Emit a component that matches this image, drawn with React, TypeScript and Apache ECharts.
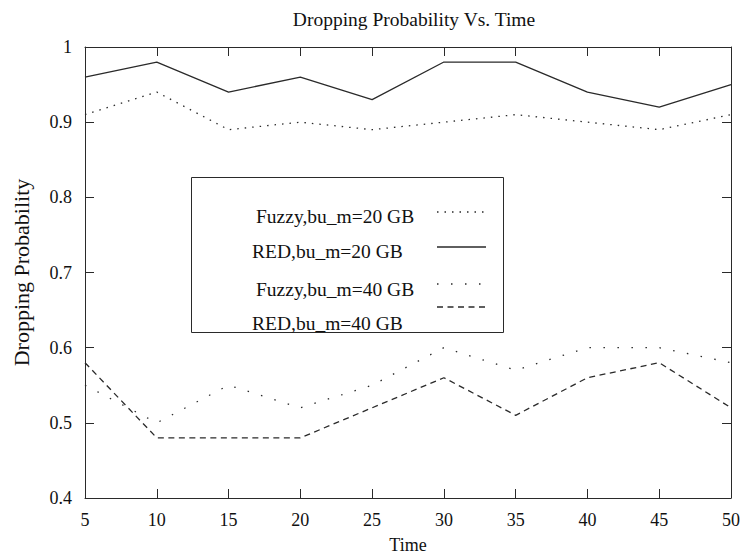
import React, { useEffect, useRef } from "react";
import * as echarts from "echarts";

const times = [5, 10, 15, 20, 25, 30, 35, 40, 45, 50];
const fuzzy20 = [0.91, 0.94, 0.89, 0.9, 0.89, 0.9, 0.91, 0.9, 0.89, 0.91];
const red20 = [0.96, 0.98, 0.94, 0.96, 0.93, 0.98, 0.98, 0.94, 0.92, 0.95];
const fuzzy40 = [0.55, 0.5, 0.55, 0.52, 0.55, 0.6, 0.57, 0.6, 0.6, 0.58];
const red40 = [0.58, 0.48, 0.48, 0.48, 0.52, 0.56, 0.51, 0.56, 0.58, 0.52];
const seriesNames = [
  "Fuzzy,bu_m=20 GB",
  "RED,bu_m=20 GB",
  "Fuzzy,bu_m=40 GB",
  "RED,bu_m=40 GB",
];

const FONT = "'Liberation Serif', 'DejaVu Serif', serif";
const INK = "#2a2a2a";

export default function App() {
  const ref = useRef<HTMLDivElement>(null);
  useEffect(() => {
    if (!ref.current) return;
    const chart = echarts.init(ref.current, undefined, { renderer: "svg" });
    const pair = (ys: number[]) => times.map((t, i) => [t, ys[i]]);
    const dashes: any[] = [[1.5, 6], "solid", [1.5, 12.5], [6, 4.5]];
    const datasets = [fuzzy20, red20, fuzzy40, red40];
    const axisCommon = {
      axisLine: { show: true, lineStyle: { color: INK, width: 1 } },
      axisTick: { show: true, inside: true, length: 9, lineStyle: { color: INK, width: 1 } },
      splitLine: { show: false },
    };
    const legendLineY = [212, 247, 284, 307];
    const legendTextY = [216, 251, 289, 323];
    const legendTextX = [256, 252, 256, 252];
    const graphics: any[] = [
      {
        type: "rect",
        shape: { x: 191.5, y: 177.5, width: 312, height: 155 },
        style: { fill: "#fff", stroke: INK, lineWidth: 1 },
        z: 100,
      },
    ];
    seriesNames.forEach((n, i) => {
      graphics.push({
        type: "text",
        x: legendTextX[i],
        y: legendTextY[i],
        style: {
          text: n,
          font: `19.5px ${FONT}`,
          fill: "#111",
          align: "left",
          verticalAlign: "middle",
        },
        z: 101,
      });
      graphics.push({
        type: "line",
        shape: { x1: 437, y1: legendLineY[i], x2: 486, y2: legendLineY[i] },
        style: {
          stroke: INK,
          lineWidth: 1.3,
          lineDash: dashes[i] === "solid" ? null : dashes[i],
        },
        z: 101,
      });
    });
    chart.setOption({
      animation: false,
      backgroundColor: "#fff",
      title: {
        text: "Dropping Probability Vs. Time",
        left: 409,
        top: 4,
        textAlign: "center",
        textStyle: { fontFamily: FONT, fontSize: 19.5, fontWeight: "normal", color: "#111" },
      },
      grid: {
        left: 85,
        right: 14,
        top: 47,
        bottom: 60,
        containLabel: false,
        outerBoundsMode: "none",
      },
      xAxis: [
        {
          type: "value",
          min: 5,
          max: 50,
          interval: 5,
          name: "Time",
          nameLocation: "middle",
          nameGap: 38,
          nameTextStyle: { fontFamily: FONT, fontSize: 18, color: "#111" },
          axisLabel: { fontFamily: FONT, fontSize: 18, color: "#111", margin: 13 },
          ...axisCommon,
        },
        {
          type: "value",
          position: "top",
          min: 5,
          max: 50,
          interval: 5,
          axisLabel: { show: false },
          ...axisCommon,
        },
      ],
      yAxis: [
        {
          type: "value",
          min: 0.4,
          max: 1,
          interval: 0.1,
          name: "Dropping Probability",
          nameLocation: "middle",
          nameGap: 53,
          nameTextStyle: { fontFamily: FONT, fontSize: 22, fontWeight: "normal", color: "#111" },
          axisLabel: { fontFamily: FONT, fontSize: 18, color: "#111", margin: 13 },
          ...axisCommon,
        },
        {
          type: "value",
          position: "right",
          min: 0.4,
          max: 1,
          interval: 0.1,
          axisLabel: { show: false },
          ...axisCommon,
        },
      ],
      series: datasets.map((d, i) => ({
        name: seriesNames[i],
        type: "line",
        data: pair(d),
        showSymbol: false,
        symbol: "none",
        lineStyle: { color: INK, width: 1.3, type: dashes[i] },
        itemStyle: { color: INK },
      })),
      graphic: graphics,
    });
    return () => chart.dispose();
  }, []);
  return (
    <div
      ref={ref}
      style={{ position: "fixed", left: 0, top: 0, width: 745, height: 558, background: "#fff" }}
    />
  );
}
